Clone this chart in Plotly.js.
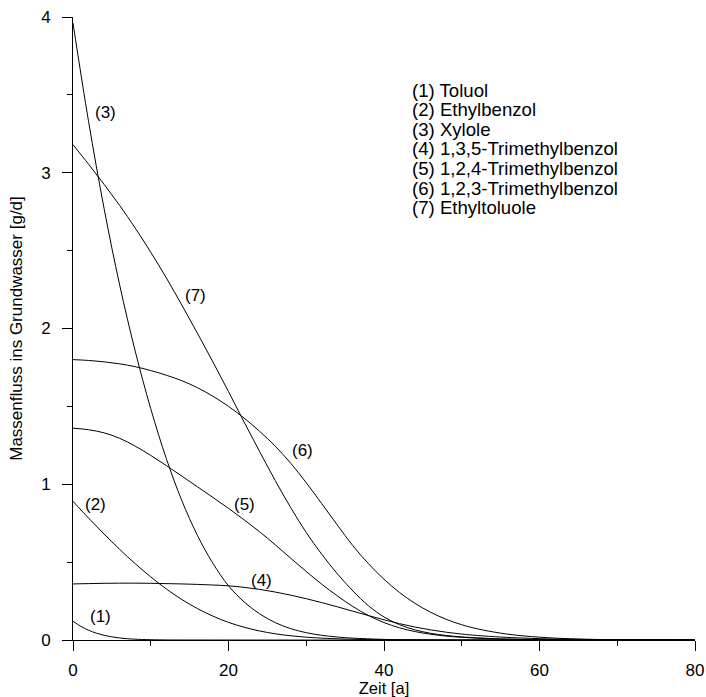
<!DOCTYPE html>
<html>
<head>
<meta charset="utf-8">
<script src="https://cdn.plot.ly/plotly-3.0.1.min.js"></script>
<style>html,body{margin:0;padding:0;background:#fff;}#chart{width:706px;height:697px;}</style>
</head>
<body>
<div id="chart"></div>
<script>
// Zeit [a] and Massenfluss [g/d] per substance
const x1 = [0, 1, 2, 3, 4, 5, 6, 7, 8, 10, 12, 15, 80];
const y1 = [0.12, 0.088, 0.063, 0.044, 0.03, 0.02, 0.013, 0.008, 0.005, 0.002, 0.0005, 0, 0];

const x2 = [0, 2, 4, 6, 8, 10, 12, 14, 16, 18, 20, 22, 24, 26, 28, 30, 32, 35, 40, 45, 80];
const y2 = [0.89, 0.783, 0.68, 0.582, 0.49, 0.405, 0.328, 0.26, 0.202, 0.153, 0.113, 0.082, 0.058, 0.04, 0.027, 0.018, 0.012, 0.006, 0.0015, 0, 0];

const x3 = [0, 2, 4, 6, 8, 10, 12, 14, 16, 18, 20, 22, 24, 26, 28, 30, 32, 34, 36, 40, 45, 50, 80];
const y3 = [3.96, 3.33, 2.77, 2.28, 1.855, 1.485, 1.165, 0.895, 0.672, 0.492, 0.348, 0.245, 0.168, 0.112, 0.073, 0.047, 0.03, 0.019, 0.012, 0.004, 0.001, 0, 0];

const x4 = [0, 2, 4, 6, 8, 10, 12, 14, 16, 18, 20, 22, 24, 26, 28, 30, 32, 34, 36, 38, 40, 42, 44, 46, 48, 50, 52, 55, 58, 62, 66, 70, 75, 80];
const y4 = [0.36, 0.362, 0.364, 0.365, 0.365, 0.364, 0.362, 0.36, 0.357, 0.353, 0.348, 0.338, 0.325, 0.308, 0.288, 0.265, 0.24, 0.213, 0.185, 0.157, 0.13, 0.105, 0.083, 0.065, 0.05, 0.038, 0.029, 0.019, 0.012, 0.006, 0.003, 0.0015, 0.0005, 0];

const x5 = [0, 2, 4, 6, 8, 10, 12, 14, 16, 18, 20, 22, 24, 26, 28, 30, 32, 34, 36, 38, 40, 42, 44, 46, 48, 50, 55, 60, 65, 80];
const y5 = [1.36, 1.35, 1.33, 1.295, 1.245, 1.185, 1.12, 1.052, 0.984, 0.915, 0.845, 0.772, 0.695, 0.612, 0.525, 0.44, 0.358, 0.283, 0.215, 0.157, 0.112, 0.078, 0.054, 0.037, 0.025, 0.017, 0.006, 0.002, 0.0005, 0];

const x6 = [0, 2, 4, 6, 8, 10, 12, 14, 16, 18, 20, 22, 24, 26, 28, 30, 32, 34, 36, 38, 40, 42, 44, 46, 48, 50, 52, 55, 58, 62, 66, 70, 75, 80];
const y6 = [1.80, 1.795, 1.786, 1.773, 1.755, 1.73, 1.70, 1.665, 1.62, 1.565, 1.50, 1.425, 1.34, 1.245, 1.135, 1.01, 0.875, 0.738, 0.605, 0.49, 0.39, 0.305, 0.235, 0.178, 0.133, 0.098, 0.072, 0.044, 0.026, 0.012, 0.005, 0.002, 0.0005, 0];

const x7 = [0, 2, 4, 6, 8, 10, 12, 14, 16, 18, 20, 22, 24, 26, 28, 30, 32, 34, 36, 38, 40, 42, 44, 46, 48, 50, 55, 60, 65, 80];
const y7 = [3.18, 3.055, 2.925, 2.79, 2.645, 2.49, 2.325, 2.15, 1.97, 1.785, 1.595, 1.40, 1.21, 1.025, 0.85, 0.69, 0.55, 0.425, 0.315, 0.22, 0.148, 0.098, 0.065, 0.043, 0.029, 0.02, 0.007, 0.0025, 0.0008, 0];

const seriesX = [x1, x2, x3, x4, x5, x6, x7];
const seriesY = [y1, y2, y3, y4, y5, y6, y7];

const curveLabels = ['(1)', '(2)', '(3)', '(4)', '(5)', '(6)', '(7)'];
const curveLabelX = [3.5, 2.9, 4.2, 24.3, 22.0, 29.5, 15.7];
const curveLabelY = [0.15, 0.87, 3.39, 0.38, 0.87, 1.215, 2.21];

const legendLines = ['(1) Toluol', '(2) Ethylbenzol', '(3) Xylole', '(4) 1,3,5-Trimethylbenzol',
  '(5) 1,2,4-Trimethylbenzol', '(6) 1,2,3-Trimethylbenzol', '(7) Ethyltoluole'];

const xTicks = [0, 20, 40, 60, 80];
const yTicks = [0, 1, 2, 3, 4];

const FONT = 'Liberation Sans, Arial, sans-serif';

const traces = seriesX.map((xs, i) => ({
  x: xs, y: seriesY[i], type: 'scatter', mode: 'lines',
  line: {color: '#000', width: 1, shape: 'spline', smoothing: 1},
  hoverinfo: 'skip', showlegend: false
}));

const annotations = [];
curveLabels.forEach((t, i) => annotations.push({
  x: curveLabelX[i], y: curveLabelY[i], xref: 'x', yref: 'y', text: t, showarrow: false,
  font: {family: FONT, size: 17, color: '#000'}, xanchor: 'center', yanchor: 'middle'
}));
const legTop = 3.53, legStep = 0.1258;
legendLines.forEach((t, i) => annotations.push({
  x: 43.4, y: legTop - i * legStep, xref: 'x', yref: 'y', text: t, showarrow: false,
  font: {family: FONT, size: 18.6, color: '#000'}, xanchor: 'left', yanchor: 'middle'
}));

const layout = {
  width: 706, height: 697,
  margin: {l: 72.7, r: 11.3, t: 16.7, b: 57},
  paper_bgcolor: '#fff', plot_bgcolor: '#fff',
  font: {family: FONT, size: 17, color: '#000'},
  xaxis: {
    range: [0, 80], tickvals: xTicks, ticktext: xTicks.map(String),
    ticks: 'outside', ticklen: 10, tickwidth: 1, tickcolor: '#000',
    minor: {dtick: 10, tick0: 0, ticks: 'outside', ticklen: 5, tickwidth: 1, tickcolor: '#000'},
    showline: true, linecolor: '#000', linewidth: 1, showgrid: false, zeroline: false,
    tickfont: {family: FONT, size: 17, color: '#000'}, ticklabelstandoff: 5,
    title: {text: 'Zeit [a]', font: {family: FONT, size: 16.5, color: '#000'}, standoff: 4}
  },
  yaxis: {
    range: [0, 4], tickvals: yTicks, ticktext: yTicks.map(String),
    ticks: 'outside', ticklen: 10, tickwidth: 1, tickcolor: '#000',
    minor: {dtick: 0.5, tick0: 0, ticks: 'outside', ticklen: 5, tickwidth: 1, tickcolor: '#000'},
    showline: true, linecolor: '#000', linewidth: 1, showgrid: false, zeroline: false,
    tickfont: {family: FONT, size: 17, color: '#000'}, ticklabelstandoff: 8,
    title: {text: 'Massenfluss ins Grundwasser [g/d]', font: {family: FONT, size: 17, color: '#000'}, standoff: 14}
  },
  annotations: annotations,
  showlegend: false
};

Plotly.newPlot('chart', traces, layout, {staticPlot: true, displayModeBar: false});
</script>
</body>
</html>
